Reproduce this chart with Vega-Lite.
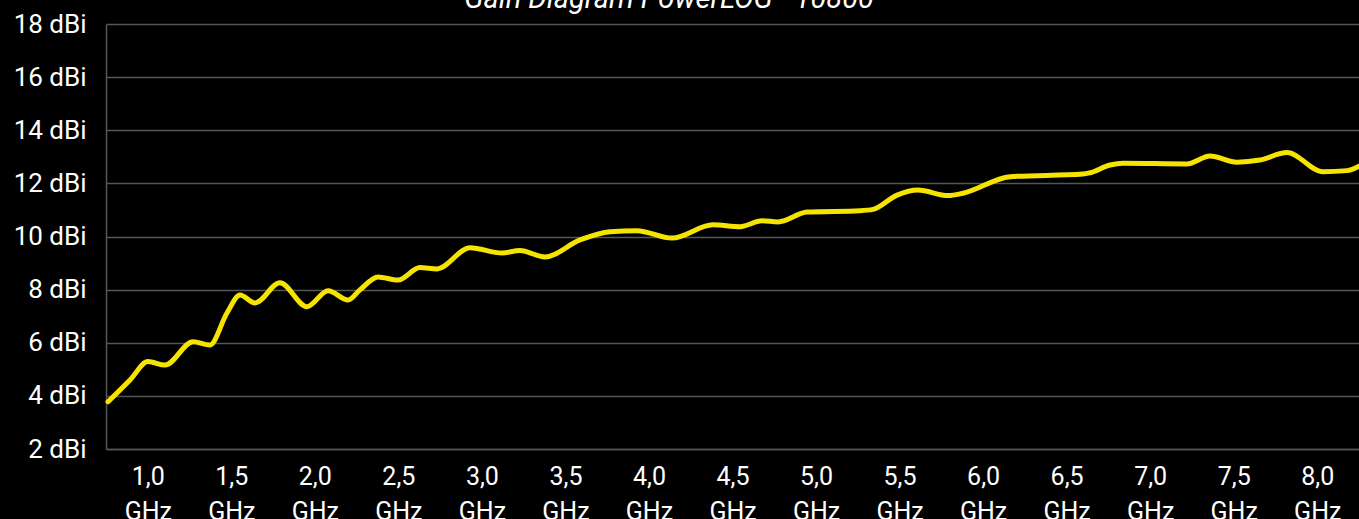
{
  "$schema": "https://vega.github.io/schema/vega-lite/v6.json",
  "width": 1253,
  "height": 425,
  "autosize": {"type": "none"},
  "padding": {"left": 106, "top": 24, "right": 0, "bottom": 70},
  "background": "#000000",
  "title": {
    "text": "Gain Diagram PowerLOG - 10800",
    "color": "#ffffff",
    "font": "Roboto",
    "fontSize": 29,
    "fontStyle": "italic",
    "fontWeight": "normal",
    "anchor": "middle",
    "frame": "bounds",
    "offset": -3,
    "dx": -22
  },
  "config": {
    "view": {"stroke": null},
    "axis": {
      "labelFont": "Roboto",
      "labelColor": "#ffffff",
      "labelFontSize": 25,
      "gridColor": "#555555",
      "gridWidth": 1.5,
      "domainColor": "#555555",
      "domainWidth": 1.5,
      "ticks": false,
      "title": null
    }
  },
  "data": {
    "values": [
      {"f": 0.762, "g": 3.78},
      {"f": 0.894, "g": 4.60},
      {"f": 1.001, "g": 5.29},
      {"f": 1.103, "g": 5.16},
      {"f": 1.271, "g": 6.04},
      {"f": 1.372, "g": 5.92},
      {"f": 1.474, "g": 7.12},
      {"f": 1.552, "g": 7.80},
      {"f": 1.642, "g": 7.50},
      {"f": 1.791, "g": 8.26},
      {"f": 1.953, "g": 7.36},
      {"f": 2.079, "g": 7.96},
      {"f": 2.199, "g": 7.61},
      {"f": 2.270, "g": 7.99},
      {"f": 2.378, "g": 8.48},
      {"f": 2.498, "g": 8.36},
      {"f": 2.629, "g": 8.83},
      {"f": 2.731, "g": 8.78},
      {"f": 2.929, "g": 9.58},
      {"f": 3.120, "g": 9.38},
      {"f": 3.228, "g": 9.47},
      {"f": 3.378, "g": 9.23},
      {"f": 3.587, "g": 9.87},
      {"f": 3.767, "g": 10.18},
      {"f": 3.928, "g": 10.22},
      {"f": 4.138, "g": 9.94},
      {"f": 4.383, "g": 10.44},
      {"f": 4.545, "g": 10.37},
      {"f": 4.676, "g": 10.59},
      {"f": 4.772, "g": 10.55},
      {"f": 4.946, "g": 10.92},
      {"f": 5.263, "g": 10.97},
      {"f": 5.341, "g": 11.02},
      {"f": 5.485, "g": 11.56},
      {"f": 5.610, "g": 11.75},
      {"f": 5.790, "g": 11.54},
      {"f": 5.880, "g": 11.63},
      {"f": 6.161, "g": 12.25},
      {"f": 6.598, "g": 12.35},
      {"f": 6.640, "g": 12.40},
      {"f": 6.760, "g": 12.69},
      {"f": 6.837, "g": 12.76},
      {"f": 7.220, "g": 12.73},
      {"f": 7.358, "g": 13.03},
      {"f": 7.520, "g": 12.80},
      {"f": 7.657, "g": 12.88},
      {"f": 7.819, "g": 13.16},
      {"f": 8.034, "g": 12.44},
      {"f": 8.178, "g": 12.48},
      {"f": 8.250, "g": 12.65}
    ]
  },
  "mark": {"type": "line", "color": "#f5e300", "strokeWidth": 5, "interpolate": "monotone", "strokeCap": "round"},
  "encoding": {
    "x": {
      "field": "f",
      "type": "quantitative",
      "scale": {"domain": [0.75, 8.25], "nice": false, "zero": false},
      "axis": {
        "values": [1, 1.5, 2, 2.5, 3, 3.5, 4, 4.5, 5, 5.5, 6, 6.5, 7, 7.5, 8],
        "grid": false,
        "labelExpr": "[replace(format(datum.value, '.1f'), '.', ','), 'GHz']",
        "labelLineHeight": 35,
        "labelPadding": 15,
        "labelFlush": false,
        "labelOverlap": false
      }
    },
    "y": {
      "field": "g",
      "type": "quantitative",
      "scale": {"domain": [2, 18], "nice": false, "zero": false},
      "axis": {
        "values": [2, 4, 6, 8, 10, 12, 14, 16, 18],
        "grid": true,
        "labelExpr": "datum.value + ' dBi'",
        "labelFontSize": 26,
        "labelPadding": 20,
        "labelFlush": false,
        "labelOverlap": false
      }
    }
  }
}
